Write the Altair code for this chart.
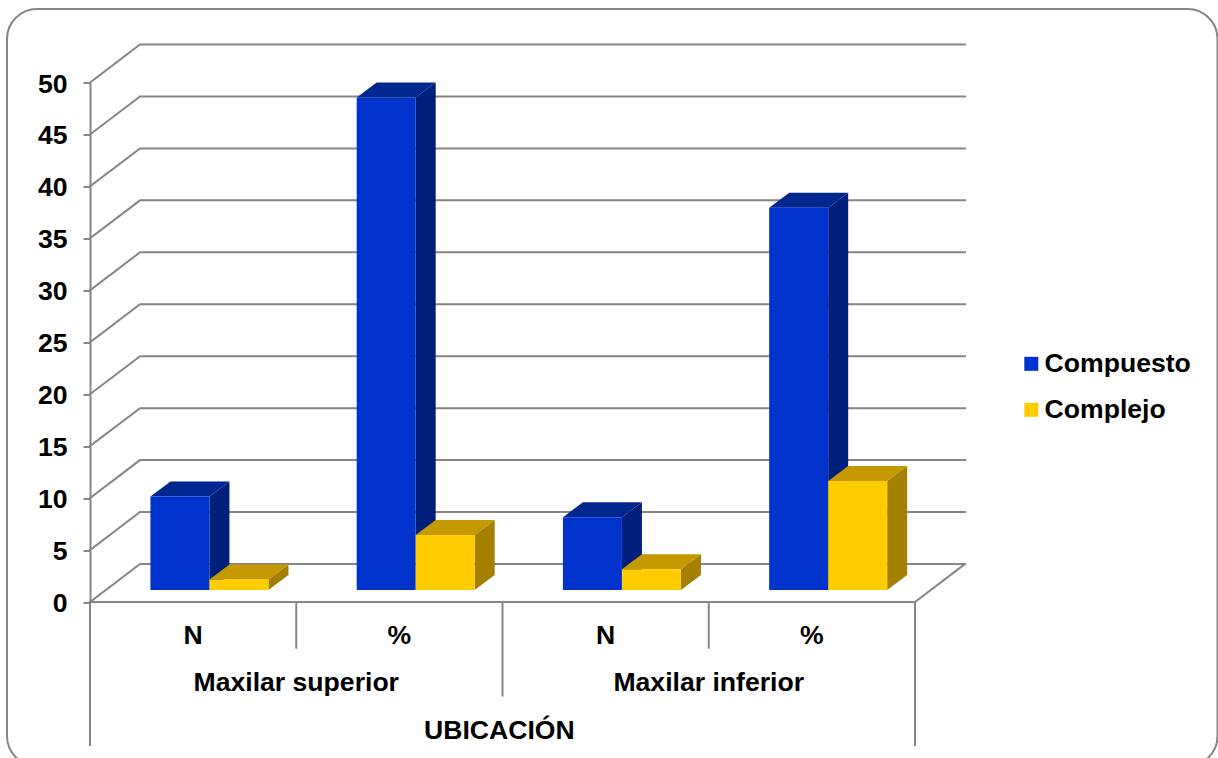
import altair as alt
import pandas as pd

# Chart values, in category order
SERIES = ["Compuesto", "Complejo"]
COMPUESTO = [9, 47.4, 7, 36.8]
COMPLEJO = [1, 5.3, 2, 10.5]
MEASURES = ["N", "%", "N", "%"]
LOCATIONS = ["Maxilar superior", "Maxilar inferior"]
AXIS_TITLE = "UBICACIÓN"
Y_TICKS = list(range(0, 55, 5))

FRONT = {"Compuesto": "#0033CC", "Complejo": "#FFCC00"}
TOP = {"Compuesto": "#00268F", "Complejo": "#C49A00"}
SIDE = {"Compuesto": "#001F7A", "Complejo": "#A38000"}
GRID = "#868686"
FONT = "Liberation Sans"
FONT_SIZE = 26.6

# Plot-area size; the x scale has one unit per category, the y scale is in value units
PLOT_W, PLOT_H = 825, 519.5
LEFT, TOP_PAD = 90, 82.5
X_PX = PLOT_W / 4
Y_PX = PLOT_H / 50

# Pseudo-3D projection offsets
WALL_DX, WALL_DY = 50 / X_PX, 38 / Y_PX
BAR_DX, BAR_DY = 20 / X_PX, 15 / Y_PX
FLOOR_LIFT = 12 / Y_PX
BAR_START, BAR_W = 0.293, 59 / X_PX

x_scale = alt.Scale(domain=[0, 4], nice=False, zero=False)
y_scale = alt.Scale(domain=[0, 50], nice=False, zero=False)
y_axis = alt.Axis(
    values=Y_TICKS, title=None, grid=False, tickSize=7, tickWidth=2, tickColor=GRID,
    domainColor=GRID, domainWidth=2, labelFont=FONT, labelFontSize=FONT_SIZE,
    labelFontWeight="bold", labelColor="#000000", labelPadding=16, labelOffset=1.5,
)
X = lambda f: alt.X(f, type="quantitative", scale=x_scale, axis=None)
Y = lambda f: alt.Y(f, type="quantitative", scale=y_scale, axis=y_axis)

# Back wall and side gridlines
grid_rows = []
for v in Y_TICKS:
    grid_rows += [
        {"id": v, "o": 0, "x": 0, "y": v},
        {"id": v, "o": 1, "x": WALL_DX, "y": v + WALL_DY},
        {"id": v, "o": 2, "x": 4 + WALL_DX, "y": v + WALL_DY},
    ]
grid_rows += [
    {"id": 100, "o": 0, "x": 0, "y": 0},
    {"id": 100, "o": 1, "x": 4, "y": 0},
    {"id": 100, "o": 2, "x": 4 + WALL_DX, "y": WALL_DY},
]
grid = alt.Chart(pd.DataFrame(grid_rows)).mark_line(color=GRID, strokeWidth=2, strokeCap="square").encode(
    x=X("x"), y=Y("y"), detail="id:N", order="o:Q"
)

# Category dividers below the floor
dividers = pd.DataFrame(
    {"x": [0, 1, 2, 3, 4], "y": [0] * 5, "y2": [-13.85, -4.5, -9.1, -4.5, -13.85]}
)
divider_rules = alt.Chart(dividers).mark_rule(color=GRID, strokeWidth=2).encode(
    x=X("x"), y=Y("y"), y2="y2:Q"
)

# Bars: one front rectangle per value, plus projected top and side faces
front_rows, top_rows, side_rows = [], {s: [] for s in SERIES}, {s: [] for s in SERIES}
for s_i, (name, values) in enumerate(zip(SERIES, [COMPUESTO, COMPLEJO])):
    for k, v in enumerate(values):
        x0 = k + BAR_START + s_i * BAR_W
        x1 = x0 + BAR_W
        lo, hi = FLOOR_LIFT, FLOOR_LIFT + v
        front_rows.append({"serie": name, "x": x0, "x2": x1, "y": hi, "y2": lo})
        top_rows[name] += [
            {"id": k, "y": hi, "x": x0, "x2": x1},
            {"id": k, "y": hi + BAR_DY, "x": x0 + BAR_DX, "x2": x1 + BAR_DX},
        ]
        side_rows[name] += [
            {"id": k, "x": x1, "y": hi, "y2": lo},
            {"id": k, "x": x1 + BAR_DX, "y": hi + BAR_DY, "y2": lo + BAR_DY},
        ]

faces = []
for name in SERIES:
    faces.append(
        alt.Chart(pd.DataFrame(side_rows[name])).mark_area(color=SIDE[name], orient="vertical").encode(
            x=X("x"), y=Y("y"), y2="y2:Q", detail="id:N"
        )
    )
    faces.append(
        alt.Chart(pd.DataFrame(top_rows[name])).mark_area(color=TOP[name], orient="horizontal").encode(
            y=Y("y"), x=X("x"), x2="x2:Q", detail="id:N"
        )
    )

fronts = alt.Chart(pd.DataFrame(front_rows)).mark_rect().encode(
    x=X("x"),
    x2="x2:Q",
    y=Y("y"),
    y2="y2:Q",
    color=alt.Color(
        "serie:N",
        scale=alt.Scale(domain=SERIES, range=[FRONT[s] for s in SERIES]),
        legend=alt.Legend(
            orient="none", legendX=928, legendY=268, title=None, symbolType="square",
            symbolSize=196, symbolStrokeWidth=0, labelFont=FONT, labelFontSize=FONT_SIZE,
            labelFontWeight="bold", labelColor="#000000", labelOffset=0, rowPadding=19,
            labelLimit=300,
        ),
    ),
)

# Multi-level category labels
labels = pd.DataFrame(
    {
        "t": MEASURES + LOCATIONS + [AXIS_TITLE],
        "x": [0.5, 1.5, 2.5, 3.5, 1.0, 3.0, 1.985],
        "y": [-3.28, -3.28, -3.28, -3.28, -7.8, -7.8, -12.42],
    }
)
label_text = alt.Chart(labels).mark_text(
    font=FONT, fontSize=FONT_SIZE, fontWeight="bold", color="#000000", baseline="middle", align="center"
).encode(x=X("x"), y=Y("y"), text="t:N")

# Rounded outer frame; its bottom edge runs past the page
frame = alt.Chart(pd.DataFrame([{"a": 0}])).mark_rect(
    fillOpacity=0, stroke=GRID, strokeWidth=2, cornerRadius=30
).encode(
    x=alt.value(7 - LEFT), x2=alt.value(1217.5 - LEFT),
    y=alt.value(9 - TOP_PAD), y2=alt.value(766 - TOP_PAD),
)

chart = alt.layer(frame, grid, divider_rules, *faces, fronts, label_text).properties(
    width=PLOT_W,
    height=PLOT_H,
    padding={"left": LEFT, "top": TOP_PAD, "right": 1218 - LEFT - PLOT_W, "bottom": 758 - TOP_PAD - PLOT_H},
    autosize=alt.AutoSizeParams(type="none"),
    background="#FFFFFF",
).configure_view(stroke=None)

chart.save("out.html", embed_options={"renderer": "svg", "actions": False})
